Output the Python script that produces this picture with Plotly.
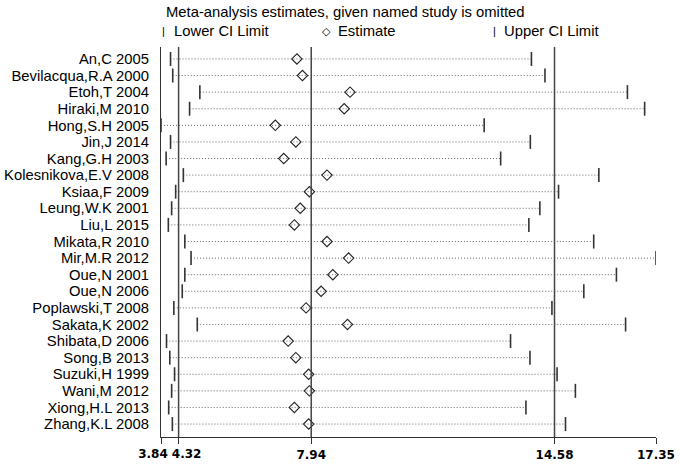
import plotly.graph_objects as go

studies = ["An,C 2005", "Bevilacqua,R.A 2000", "Etoh,T 2004", "Hiraki,M 2010", "Hong,S.H 2005",
           "Jin,J 2014", "Kang,G.H 2003", "Kolesnikova,E.V 2008", "Ksiaa,F 2009", "Leung,W.K 2001",
           "Liu,L 2015", "Mikata,R 2010", "Mir,M.R 2012", "Oue,N 2001", "Oue,N 2006",
           "Poplawski,T 2008", "Sakata,K 2002", "Shibata,D 2006", "Song,B 2013", "Suzuki,H 1999",
           "Wani,M 2012", "Xiong,H.L 2013", "Zhang,K.L 2008"]
lower = [4.10, 4.16, 4.90, 4.62, 3.84, 4.10, 3.98, 4.45, 4.24, 4.13, 4.04, 4.49, 4.66, 4.49, 4.42,
         4.19, 4.83, 3.99, 4.08, 4.21, 4.13, 4.05, 4.15]
estimate = [7.55, 7.70, 9.00, 8.84, 6.96, 7.52, 7.19, 8.37, 7.89, 7.64, 7.48, 8.37, 8.96, 8.53, 8.21,
            7.80, 8.93, 7.31, 7.52, 7.87, 7.89, 7.48, 7.87]
upper = [13.95, 14.32, 16.57, 17.04, 12.66, 13.92, 13.11, 15.79, 14.69, 14.18, 13.88, 15.65, 17.35,
         16.27, 15.38, 14.51, 16.52, 13.38, 13.91, 14.65, 15.15, 13.80, 14.88]
overall = [4.32, 7.94, 14.58]
xticks = [3.84, 4.32, 7.94, 14.58, 17.35]
xtick_labels = ["3.84", "4.32", "7.94", "14.58", "17.35"]

n = len(studies)
ypos = list(range(n))

fig = go.Figure()
for i in range(n):
    fig.add_trace(go.Scatter(x=[lower[i], upper[i]], y=[ypos[i], ypos[i]], mode="lines",
                             line=dict(color="#666666", width=1, dash="1px,2px"),
                             showlegend=False, hoverinfo="skip"))
fig.add_trace(go.Scatter(x=lower + upper, y=ypos + ypos, mode="markers",
                         marker=dict(symbol="line-ns", size=10,
                                     line=dict(color="#333333", width=1.6)),
                         showlegend=False))
fig.add_trace(go.Scatter(x=estimate, y=ypos, mode="markers",
                         marker=dict(symbol="diamond-open", size=8, color="#222222",
                                     line=dict(width=1.1)),
                         showlegend=False))

for v in overall:
    fig.add_shape(type="line", xref="x", yref="paper", x0=v, x1=v, y0=0, y1=1,
                  line=dict(color="#444444", width=1.5))

tickfont = dict(family="DejaVu Sans", size=12, color="black", weight="bold")
common_x = dict(range=[xticks[0], xticks[-1]], tickangle=0, showgrid=False, zeroline=False,
                ticks="outside", ticklen=6, tickcolor="#333333", tickwidth=1.3,
                tickfont=tickfont, automargin=False)

fig.update_layout(
    xaxis=dict(tickvals=xticks[2:], ticktext=xtick_labels[2:], showline=True,
               linecolor="#333333", linewidth=1.3, **common_x),
    xaxis2=dict(tickvals=[xticks[0]], ticktext=[xtick_labels[0]], overlaying="x", matches="x",
                showline=False, ticklabelshift=-8, **common_x),
    xaxis3=dict(tickvals=[xticks[1]], ticktext=[xtick_labels[1]], overlaying="x", matches="x",
                showline=False, ticklabelshift=8, **common_x),
)
fig.add_trace(go.Scatter(x=[xticks[0]], y=[ypos[0]], xaxis="x2", mode="markers",
                         marker=dict(opacity=0), showlegend=False, hoverinfo="skip"))
fig.add_trace(go.Scatter(x=[xticks[1]], y=[ypos[0]], xaxis="x3", mode="markers",
                         marker=dict(opacity=0), showlegend=False, hoverinfo="skip"))

fig.update_yaxes(range=[n - 1 + 0.78, -0.72], tickvals=ypos, ticktext=studies,
                 showgrid=False, zeroline=False, showline=True, linecolor="#333333", linewidth=1.3,
                 ticks="outside", ticklen=8, tickcolor="rgba(0,0,0,0)", automargin=False,
                 tickfont=dict(family="Liberation Sans", size=14.8, color="black"))

def px2x(px):
    return (px - 161) / 495.0

def py2y(py):
    return (437 - py) / 390.0

anns = [
    dict(text="Meta-analysis estimates, given named study is omitted", x=px2x(164), y=py2y(11.5),
         xanchor="left", size=14.8),
    dict(text="|", x=px2x(163), y=py2y(30.7), xanchor="center", size=11),
    dict(text="Lower CI Limit", x=px2x(172), y=py2y(30.7), xanchor="left", size=14.8),
    dict(text="◇", x=px2x(326.7), y=py2y(30.7), xanchor="center", size=11),
    dict(text="Estimate", x=px2x(336), y=py2y(30.7), xanchor="left", size=14.8),
    dict(text="|", x=px2x(494), y=py2y(30.7), xanchor="center", size=11),
    dict(text="Upper CI Limit", x=px2x(501.7), y=py2y(30.7), xanchor="left", size=14.8),
]
for a in anns:
    fig.add_annotation(text=a["text"], x=a["x"], y=a["y"], xref="paper", yref="paper",
                       xanchor=a["xanchor"], yanchor="middle", showarrow=False,
                       font=dict(family="Liberation Sans", size=a["size"], color="black"))

fig.update_layout(width=680, height=467, margin=dict(l=161, r=24, t=47, b=30, autoexpand=False),
                  plot_bgcolor="white", paper_bgcolor="white", showlegend=False, hovermode=False)

# remove the default page margin so the figure sits at the window's top-left corner
fig.write_html("out.html", config={"displayModeBar": False},
               post_script="document.body.style.margin='0';")
